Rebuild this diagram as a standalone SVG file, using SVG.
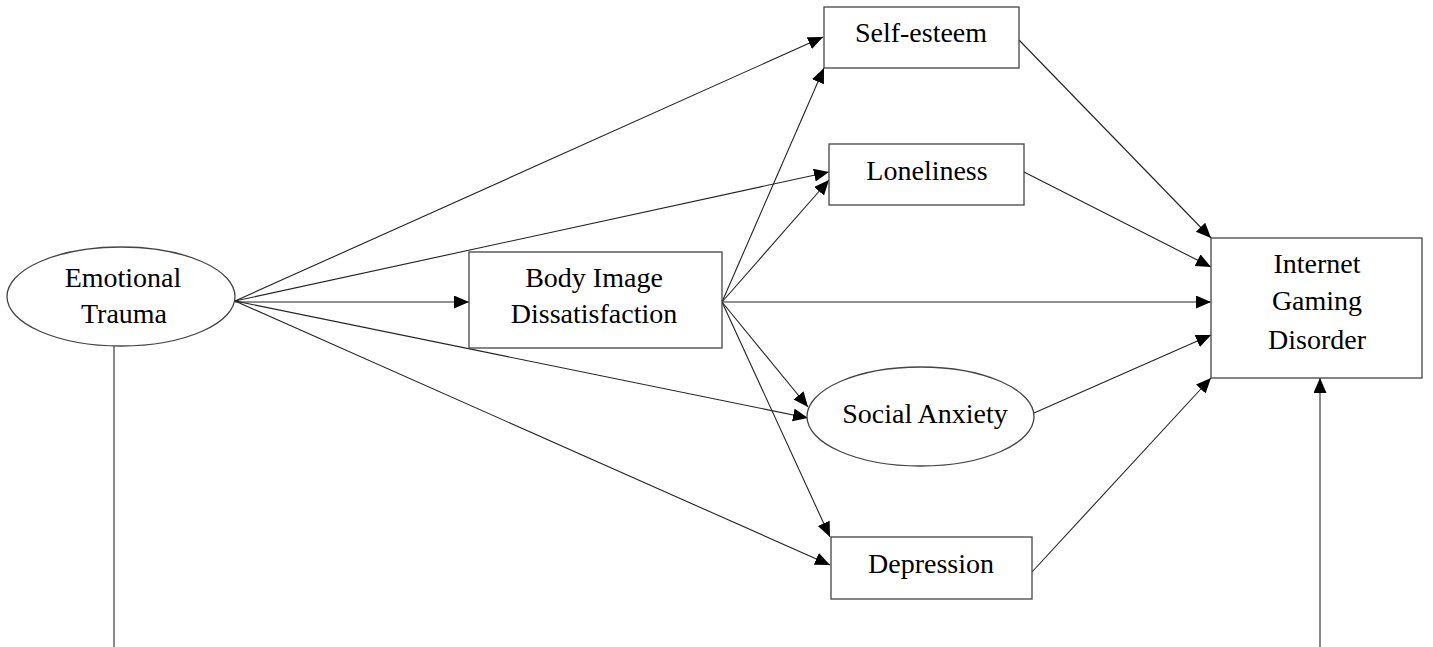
<svg xmlns="http://www.w3.org/2000/svg" width="1433" height="647" viewBox="0 0 1433 647">
<style>
.box{fill:#fff;stroke:#444;stroke-width:1.3}
.lbl{font-family:"Liberation Serif","Times New Roman",serif;font-size:28px;fill:#000;text-anchor:middle}
.edge{stroke:#222;stroke-width:1.1;fill:none}
.plain{stroke:#555;stroke-width:1.4;fill:none}
</style>
<defs>
<marker id="arr" markerUnits="userSpaceOnUse" markerWidth="16" markerHeight="14" refX="15" refY="6.5" orient="auto">
<path d="M0,0 L15,6.5 L0,13 z" fill="#000"/>
</marker>
</defs>
<rect width="1433" height="647" fill="#fff"/>
<g id="connectors">
<line class="edge" x1="235" y1="301" x2="823" y2="37" marker-end="url(#arr)"/>
<line class="edge" x1="235" y1="301" x2="829" y2="172" marker-end="url(#arr)"/>
<line class="edge" x1="235" y1="302" x2="469" y2="302" marker-end="url(#arr)"/>
<line class="edge" x1="235" y1="301" x2="808" y2="418" marker-end="url(#arr)"/>
<line class="edge" x1="235" y1="301" x2="830" y2="565" marker-end="url(#arr)"/>
<line class="edge" x1="722" y1="302" x2="824" y2="68" marker-end="url(#arr)"/>
<line class="edge" x1="722" y1="302" x2="829" y2="180" marker-end="url(#arr)"/>
<line class="edge" x1="722" y1="302" x2="1211" y2="302" marker-end="url(#arr)"/>
<line class="edge" x1="722" y1="302" x2="808" y2="407" marker-end="url(#arr)"/>
<line class="edge" x1="722" y1="302" x2="830" y2="537" marker-end="url(#arr)"/>
<line class="edge" x1="1019" y1="40" x2="1211" y2="238" marker-end="url(#arr)"/>
<line class="edge" x1="1024" y1="172" x2="1211" y2="267" marker-end="url(#arr)"/>
<line class="edge" x1="1034" y1="413" x2="1211" y2="335" marker-end="url(#arr)"/>
<line class="edge" x1="1032" y1="572" x2="1211" y2="378" marker-end="url(#arr)"/>
<line class="plain" x1="114" y1="346" x2="114" y2="647"/>
<line class="plain" x1="1320" y1="647" x2="1320" y2="378" marker-end="url(#arr)"/>
</g>
<g id="emotional-trauma">
<ellipse class="box" cx="121" cy="296.5" rx="114" ry="49.5"/>
<text class="lbl" x="123" y="287">Emotional</text>
<text class="lbl" x="124" y="323">Trauma</text>
</g>
<g id="body-image">
<rect class="box" x="469" y="252" width="253" height="96"/>
<text class="lbl" x="594" y="287">Body Image</text>
<text class="lbl" x="594" y="323">Dissatisfaction</text>
</g>
<g id="self-esteem">
<rect class="box" x="824" y="7" width="195" height="61"/>
<text class="lbl" x="921" y="42">Self-esteem</text>
</g>
<g id="loneliness">
<rect class="box" x="829" y="144" width="195" height="61"/>
<text class="lbl" x="927" y="180">Loneliness</text>
</g>
<g id="social-anxiety">
<ellipse class="box" cx="920.5" cy="416.5" rx="113.5" ry="49.5"/>
<text class="lbl" x="925" y="423">Social Anxiety</text>
</g>
<g id="depression">
<rect class="box" x="831" y="537" width="201" height="62"/>
<text class="lbl" x="931" y="573">Depression</text>
</g>
<g id="igd">
<rect class="box" x="1211" y="238" width="211" height="140"/>
<text class="lbl" x="1317" y="273">Internet</text>
<text class="lbl" x="1317" y="310">Gaming</text>
<text class="lbl" x="1317" y="349">Disorder</text>
</g>
</svg>
